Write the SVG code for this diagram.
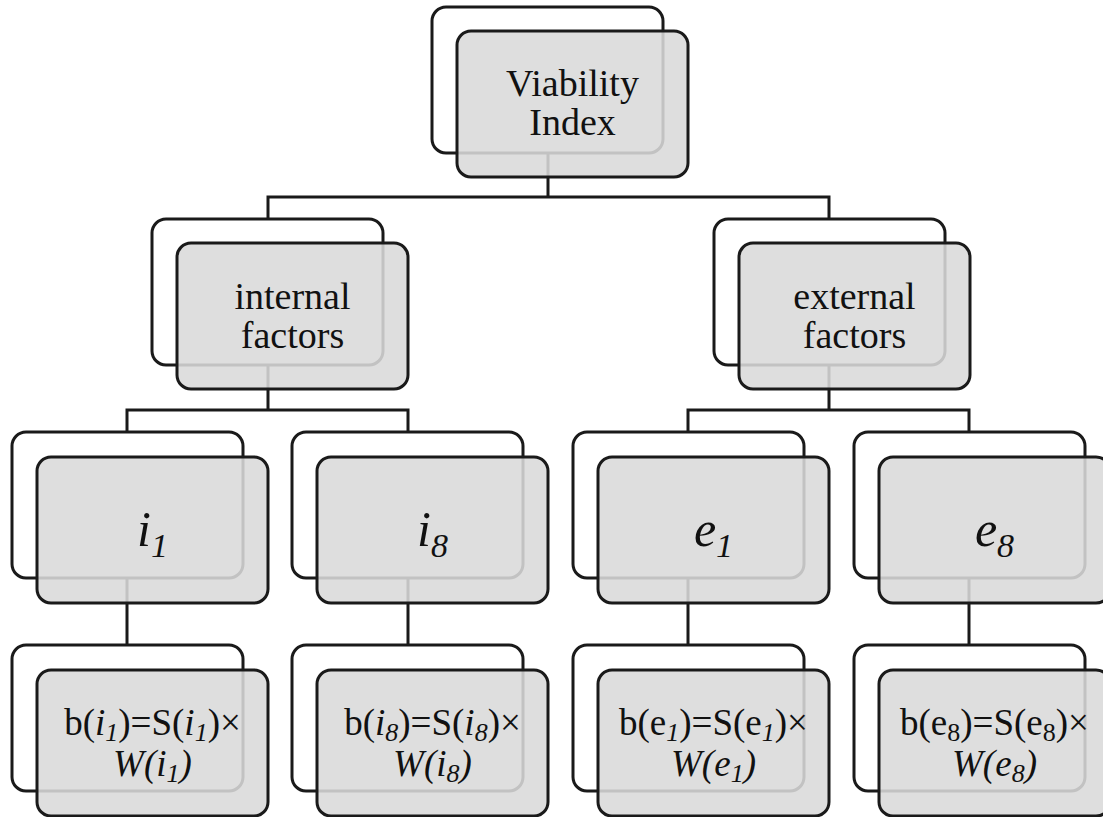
<svg xmlns="http://www.w3.org/2000/svg" width="1103" height="817" viewBox="0 0 1103 817">
<style>
.back{fill:none;stroke:#1a1a1a;stroke-width:3}
.front{fill:#dadada;fill-opacity:0.88;stroke:#1a1a1a;stroke-width:3}
.conn{fill:none;stroke:#1a1a1a;stroke-width:3}
text{font-family:'Liberation Serif','Times New Roman',serif;fill:#111111;text-anchor:middle}
.t{font-size:38px}
.big{font-size:50px;font-style:italic}
.f{font-size:37px}
.it{font-style:italic}
.sub{font-size:26px}
</style>
<rect width="1103" height="817" fill="#ffffff"/>
<g id="connectors">
<path class="conn" d="M548 153V197M268 219V197H829V219"/>
<path class="conn" d="M268 366V410M127 432V410H408V432"/>
<path class="conn" d="M829 366V410M688 432V410H969V432"/>
<path class="conn" d="M127 578V645M408 578V645M688 578V645M969 578V645"/>
</g>
<g id="node-viability">
<rect class="back" x="432" y="7" width="231" height="146" rx="14"/>
<rect class="front" x="457" y="31" width="231" height="146" rx="14"/>
<text class="t" x="572.5" y="96">Viability</text>
<text class="t" x="572.5" y="135">Index</text>
</g>
<g id="node-internal">
<rect class="back" x="152" y="219" width="231" height="146" rx="14"/>
<rect class="front" x="177" y="243" width="231" height="146" rx="14"/>
<text class="t" x="292.5" y="309">internal</text>
<text class="t" x="292.5" y="348">factors</text>
</g>
<g id="node-external">
<rect class="back" x="714" y="219" width="231" height="146" rx="14"/>
<rect class="front" x="739" y="243" width="231" height="146" rx="14"/>
<text class="t" x="854.5" y="309">external</text>
<text class="t" x="854.5" y="348">factors</text>
</g>
<g id="node-i1">
<rect class="back" x="12" y="432" width="231" height="146" rx="14"/>
<rect class="front" x="37" y="457" width="231" height="146" rx="14"/>
<text class="big" x="152.5" y="546">i<tspan font-size="34" dy="11">1</tspan></text>
</g>
<g id="node-i8">
<rect class="back" x="292" y="432" width="231" height="146" rx="14"/>
<rect class="front" x="317" y="457" width="231" height="146" rx="14"/>
<text class="big" x="432.5" y="546">i<tspan font-size="34" dy="11">8</tspan></text>
</g>
<g id="node-e1">
<rect class="back" x="573" y="432" width="231" height="146" rx="14"/>
<rect class="front" x="598" y="457" width="231" height="146" rx="14"/>
<text class="big" x="713.5" y="546">e<tspan font-size="34" dy="11">1</tspan></text>
</g>
<g id="node-e8">
<rect class="back" x="854" y="432" width="231" height="146" rx="14"/>
<rect class="front" x="879" y="457" width="231" height="146" rx="14"/>
<text class="big" x="994.5" y="546">e<tspan font-size="34" dy="11">8</tspan></text>
</g>
<g id="node-bi1">
<rect class="back" x="12" y="645" width="231" height="146" rx="14"/>
<rect class="front" x="37" y="670" width="231" height="146" rx="14"/>
<text class="f" x="152.5" y="735">b(<tspan class="it">i</tspan><tspan class="it sub" dy="6">1</tspan><tspan dy="-6">)=S(</tspan><tspan class="it">i</tspan><tspan class="it sub" dy="6">1</tspan><tspan dy="-6">)×</tspan></text>
<text class="f it" x="152.5" y="776">W(i<tspan class="sub" dy="6">1</tspan><tspan dy="-6">)</tspan></text>
</g>
<g id="node-bi8">
<rect class="back" x="292" y="645" width="231" height="146" rx="14"/>
<rect class="front" x="317" y="670" width="231" height="146" rx="14"/>
<text class="f" x="432.5" y="735">b(<tspan class="it">i</tspan><tspan class="it sub" dy="6">8</tspan><tspan dy="-6">)=S(</tspan><tspan class="it">i</tspan><tspan class="it sub" dy="6">8</tspan><tspan dy="-6">)×</tspan></text>
<text class="f it" x="432.5" y="776">W(i<tspan class="sub" dy="6">8</tspan><tspan dy="-6">)</tspan></text>
</g>
<g id="node-be1">
<rect class="back" x="573" y="645" width="231" height="146" rx="14"/>
<rect class="front" x="598" y="670" width="231" height="146" rx="14"/>
<text class="f" x="713.5" y="735">b(e<tspan class="it sub" dy="6">1</tspan><tspan dy="-6">)=S(e</tspan><tspan class="it sub" dy="6">1</tspan><tspan dy="-6">)×</tspan></text>
<text class="f it" x="713.5" y="776">W(e<tspan class="sub" dy="6">1</tspan><tspan dy="-6">)</tspan></text>
</g>
<g id="node-be8">
<rect class="back" x="854" y="645" width="231" height="146" rx="14"/>
<rect class="front" x="879" y="670" width="231" height="146" rx="14"/>
<text class="f" x="994.5" y="735">b(e<tspan class="sub" dy="6">8</tspan><tspan dy="-6">)=S(e</tspan><tspan class="sub" dy="6">8</tspan><tspan dy="-6">)×</tspan></text>
<text class="f it" x="994.5" y="776">W(e<tspan class="sub" dy="6">8</tspan><tspan dy="-6">)</tspan></text>
</g>
</svg>
